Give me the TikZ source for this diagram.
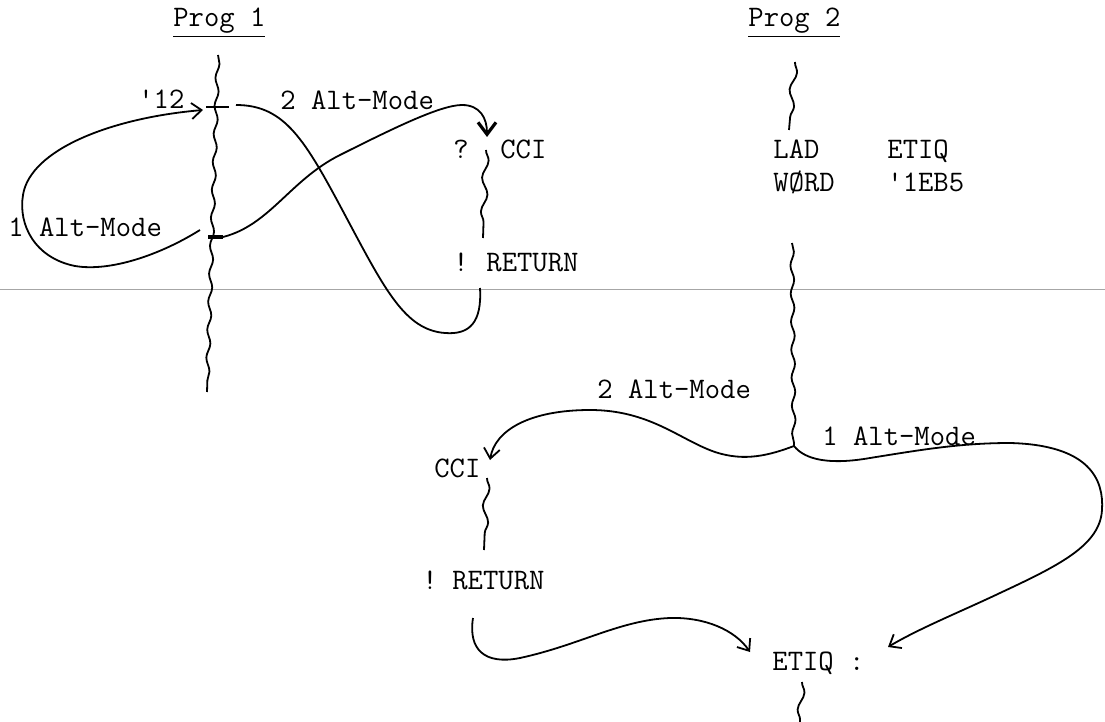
\documentclass[tikz,border=0pt]{standalone}
\usepackage{fontspec}
\usetikzlibrary{arrows.meta,decorations.pathmorphing}

\begin{document}
\begin{tikzpicture}[x=0.5pt, y=-0.5pt,
  txt/.style={font=\ttfamily\fontsize{14.9}{17}\selectfont, inner sep=0pt, anchor=base west},
  wavy/.style={decorate, decoration={snake, amplitude=0.9pt, segment length=14pt}, line width=0.9pt},
  shortwavy/.style={decorate, decoration={snake, amplitude=1.5pt, segment length=17pt}, line width=0.9pt},
  curve/.style={line width=0.9pt},
  arr/.style={curve, -{Straight Barb[length=5pt,width=8pt]}},
  boldarr/.style={line width=0.9pt, -{Straight Barb[length=6pt,width=9pt,line width=1.6pt]}},
  tick/.style={line width=1.1pt},
  divider/.style={draw=gray!70, line width=0.5pt}
]
\useasboundingbox (0,0) rectangle (1105,722);

\coordinate (divL) at (0,290);
\coordinate (divR) at (1105,290);
\draw[divider] (divL) -- (divR);

% Prog 1
\node[txt] (prog1) at (173,27) {\underline{Prog 1}};
\node[txt] (q12)   at (138,109) {'12};
\node[txt] (alt2a) at (280,110) {2 Alt-Mode};
\node[txt] (alt1a) at (8,237)   {1 Alt-Mode};
\node[txt] (qmark) at (453,159) {?};
\node[txt] (cci1)  at (500,159) {CCI};
\node[txt] (excl1) at (453,271) {!};
\node[txt] (ret1)  at (486,271) {RETURN};

\coordinate (w1top) at (218,55);
\coordinate (w1bot) at (207,392);
\draw[wavy] (w1top) -- (w1bot);
\coordinate (tickAw) at (206,107);
\coordinate (tickAe) at (229,107);
\draw[tick] (tickAw) -- (tickAe);
\coordinate (tickBw) at (208,237);
\coordinate (tickBe) at (223,237);
\draw[tick, line width=1.6pt] (tickBw) -- (tickBe);

\coordinate (w2top) at (486,150);
\coordinate (w2bot) at (483,238);
\draw[shortwavy] (w2top) -- (w2bot);

\coordinate (loopstart) at (200,230);
\coordinate (loopend)   at (203,110);
\draw[arr] (loopstart) .. controls (160,255) and (110,272) .. (75,266)
  .. controls (35,258) and (18,225) .. (23,195)
  .. controls (30,150) and (110,118) .. (loopend);

\coordinate (cciin) at (487,137);
\draw[boldarr] (tickBe) .. controls (270,225) and (290,180) .. (340,155)
  .. controls (390,130) and (440,105) .. (462,105)
  .. controls (480,105) and (487,118) .. (cciin);

\coordinate (retout) at (480,288);
\coordinate (dashA)  at (236,105);
\draw[curve] (retout) .. controls (482,322) and (470,335) .. (445,333)
  .. controls (405,330) and (385,290) .. (345,215)
  .. controls (305,140) and (285,105) .. (dashA);

% Prog 2
\node[txt] (prog2) at (748,27)  {\underline{Prog 2}};
\node[txt] (lad)   at (773,159) {LAD};
\node[txt] (etiq1) at (887,159) {ETIQ};
\node[txt] (word)  at (773,192) {WØRD};
\node[txt] (hex)   at (887,192) {'1EB5};
\node[txt] (alt2b) at (597,399) {2 Alt-Mode};
\node[txt] (alt1b) at (822,445) {1 Alt-Mode};
\node[txt] (cci2)  at (434,477) {CCI};
\node[txt] (excl2) at (422,589) {!};
\node[txt] (ret2)  at (452,589) {RETURN};
\node[txt] (etiq2) at (772,670) {ETIQ :};

\coordinate (w3top) at (795,62);
\coordinate (w3bot) at (789,130);
\draw[shortwavy] (w3top) -- (w3bot);
\coordinate (w4top) at (792,243);
\coordinate (fork)  at (794,446);
\draw[wavy] (w4top) -- (fork);
\coordinate (w5top) at (487,478);
\coordinate (w5bot) at (484,550);
\draw[shortwavy] (w5top) -- (w5bot);
\coordinate (w6top) at (802,682);
\coordinate (w6bot) at (800,722);
\draw[shortwavy] (w6top) -- (w6bot);

\coordinate (cci2in) at (490,460);
\draw[arr] (fork) .. controls (770,455) and (745,462) .. (715,452)
  .. controls (680,440) and (650,410) .. (590,410)
  .. controls (530,410) and (495,430) .. (cci2in);

\coordinate (etiqinR) at (888,647);
\draw[arr] (fork) .. controls (805,460) and (830,465) .. (870,458)
  .. controls (920,450) and (960,443) .. (1010,443)
  .. controls (1090,445) and (1104,480) .. (1102,510)
  .. controls (1100,545) and (1060,565) .. (1000,593)
  .. controls (960,612) and (920,628) .. (etiqinR);

\coordinate (ret2out) at (473,618);
\coordinate (etiqinL) at (750,652);
\draw[arr] (ret2out) .. controls (468,650) and (485,665) .. (520,658)
  .. controls (580,645) and (620,620) .. (670,618)
  .. controls (705,617) and (735,630) .. (etiqinL);
\end{tikzpicture}
\end{document}
